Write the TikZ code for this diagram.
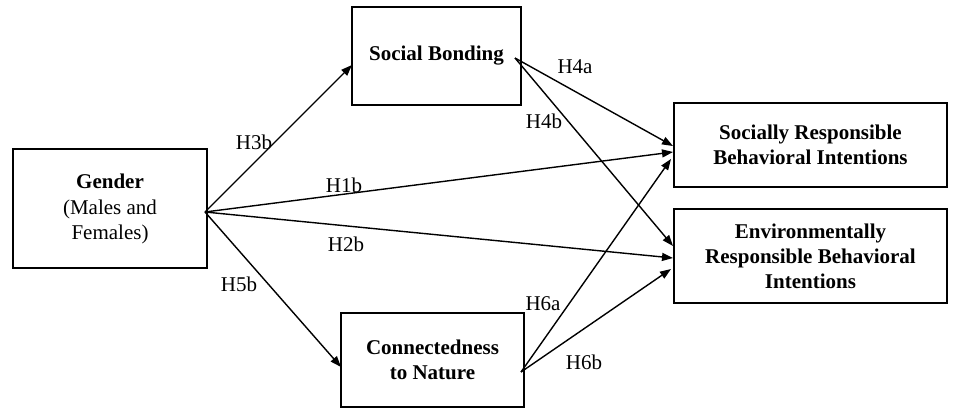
\documentclass[tikz,border=0pt]{standalone}
\usepackage{fontspec}
\setmainfont{Liberation Serif}
\usetikzlibrary{arrows.meta}
\begin{document}
\begin{tikzpicture}[x=1pt,y=-1pt,
  box/.style={draw,line width=1.8pt,inner sep=0pt,align=center,font=\fontsize{21}{25}\selectfont\bfseries},
  arr/.style={line width=1.4pt,-{Triangle[length=11pt,width=8pt]}},
  lab/.style={font=\fontsize{21}{25}\selectfont,inner sep=0pt}]
\useasboundingbox (0,0) rectangle (958,410);
\node[box,minimum width=194pt,minimum height=119pt] (g) at (110,208.5) {Gender\\[1pt]{\mdseries (Males and}\\{\mdseries Females)}};
\node[box,minimum width=169pt,minimum height=98pt] (sb) at (436.5,56) {Social Bonding};
\node[box,minimum width=273pt,minimum height=84pt] (sr) at (810.5,145) {Socially Responsible\\Behavioral Intentions};
\node[box,minimum width=273pt,minimum height=94pt] (er) at (810.5,256) {Environmentally\\Responsible Behavioral\\Intentions};
\node[box,minimum width=183pt,minimum height=94pt] (cn) at (432.5,360) {Connectedness\\to Nature};
\coordinate (gout) at (205,212);
\coordinate (sbout) at (515,58);
\coordinate (cnout) at (521,372);
\coordinate (sbin) at (352,65);
\coordinate (cnin) at (341,367);
\coordinate (sr1) at (673,146);
\coordinate (sr2) at (673,152);
\coordinate (sr3) at (671,159);
\coordinate (er1) at (673,246);
\coordinate (er2) at (673,258);
\coordinate (er3) at (671,269);
\draw[arr] (gout) -- (sbin);
\draw[arr] (gout) -- (sr2);
\draw[arr] (gout) -- (er2);
\draw[arr] (gout) -- (cnin);
\draw[arr] (sbout) -- (sr1);
\draw[arr] (sbout) -- (er1);
\draw[arr] (cnout) -- (sr3);
\draw[arr] (cnout) -- (er3);
\node[lab] (h3b) at (254,142) {H3b};
\node[lab] (h1b) at (344,185) {H1b};
\node[lab] (h2b) at (346,244) {H2b};
\node[lab] (h5b) at (239,284) {H5b};
\node[lab] (h4a) at (575,67) {H4a};
\node[lab] (h4b) at (544,121) {H4b};
\node[lab] (h6a) at (543,304) {H6a};
\node[lab] (h6b) at (584,362) {H6b};
\end{tikzpicture}
\end{document}
